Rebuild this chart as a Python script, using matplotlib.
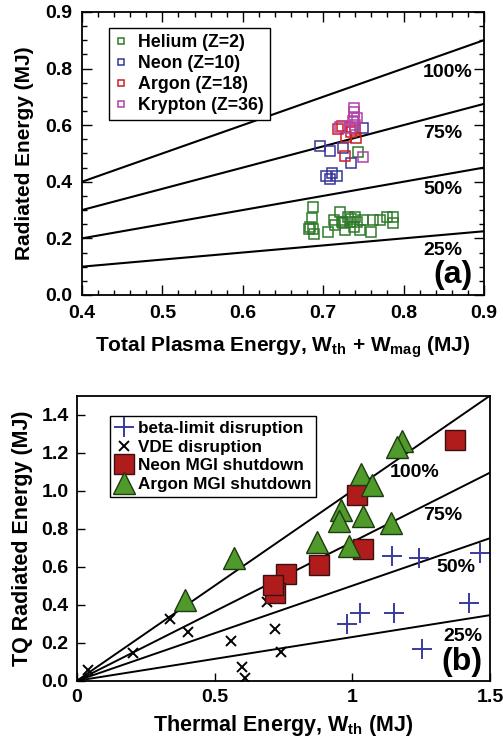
"""Radiated energy vs plasma energy: (a) impurity scan, (b) disruptions vs MGI shutdowns."""

import matplotlib
matplotlib.use("Agg")
import matplotlib.pyplot as plt
import numpy as np
from matplotlib.ticker import MultipleLocator

plt.rcParams["font.family"] = ["Liberation Sans", "DejaVu Sans"]
plt.rcParams["font.weight"] = "bold"
plt.rcParams["mathtext.fontset"] = "custom"
plt.rcParams["mathtext.rm"] = "Liberation Sans:bold"
plt.rcParams["mathtext.bf"] = "Liberation Sans:bold"

# ---- panel (a): total plasma energy vs radiated energy ----
he_x = [0.688, 0.686, 0.684, 0.688, 0.689, 0.682, 0.706, 0.713, 0.715, 0.721,
        0.723, 0.725, 0.727, 0.731, 0.733, 0.738, 0.740, 0.742, 0.746, 0.750,
        0.760, 0.762, 0.771, 0.779, 0.787, 0.787, 0.735, 0.744]
he_y = [0.310, 0.271, 0.241, 0.232, 0.215, 0.232, 0.224, 0.265, 0.247, 0.294,
        0.259, 0.253, 0.229, 0.277, 0.259, 0.241, 0.277, 0.259, 0.229, 0.265,
        0.224, 0.265, 0.265, 0.277, 0.277, 0.253, 0.270, 0.506]
ne_x = [0.750, 0.696, 0.708, 0.725, 0.735, 0.704, 0.711, 0.717, 0.708]
ne_y = [0.591, 0.527, 0.508, 0.520, 0.465, 0.420, 0.430, 0.420, 0.408]
ar_x = [0.719, 0.723, 0.729, 0.741, 0.740, 0.727, 0.735]
ar_y = [0.588, 0.598, 0.559, 0.553, 0.582, 0.492, 0.575]
kr_x = [0.739, 0.739, 0.739, 0.737, 0.740, 0.733, 0.721, 0.749, 0.742]
kr_y = [0.660, 0.645, 0.630, 0.615, 0.600, 0.590, 0.594, 0.486, 0.625]

frac_a = [1.0, 0.75, 0.5, 0.25]
frac_a_labels = ["100%", "75%", "50%", "25%"]
frac_a_pos = [(0.855, 0.785), (0.849, 0.571), (0.849, 0.374), (0.849, 0.156)]

# ---- panel (b): thermal energy vs TQ radiated energy ----
beta_x = [1.143, 1.243, 1.464, 0.980, 1.028, 1.153, 1.425, 1.252]
beta_y = [0.656, 0.647, 0.674, 0.300, 0.356, 0.356, 0.409, 0.166]
vde_x = [0.039, 0.203, 0.339, 0.403, 0.559, 0.689, 0.721, 0.742, 0.601, 0.611]
vde_y = [0.056, 0.148, 0.326, 0.254, 0.210, 0.414, 0.272, 0.153, 0.070, 0.012]
neon_x = [1.373, 1.018, 1.038, 0.879, 0.760, 0.721, 0.711]
neon_y = [1.268, 0.979, 0.691, 0.607, 0.564, 0.462, 0.506]
argon_x = [1.182, 1.161, 1.031, 1.073, 0.958, 0.950, 1.040, 1.141, 0.871,
           0.989, 0.572, 0.393]
argon_y = [1.264, 1.229, 1.088, 1.032, 0.900, 0.841, 0.868, 0.829, 0.732,
           0.709, 0.647, 0.427]

frac_b = [1.0, 0.73, 0.5, 0.23]
frac_b_labels = ["100%", "75%", "50%", "25%"]
frac_b_pos = [(1.226, 1.097), (1.33, 0.868), (1.375, 0.594), (1.40, 0.233)]

fig = plt.figure(figsize=(5.03, 7.43), dpi=100)

# panel (a)
ax = fig.add_axes([0.163, 0.603, 0.799, 0.381])
xl = np.array([0.4, 0.9])
for f in frac_a:
    ax.plot(xl, f * xl, color="black", lw=1.5)
sq = dict(marker="s", ls="none", ms=7, mfc="none", mew=1.1)
ax.plot(he_x, he_y, mec="#2f7a2a", label="Helium (Z=2)", **sq)
ax.plot(ne_x, ne_y, mec="#35359a", label="Neon (Z=10)", **sq)
ax.plot(ar_x, ar_y, mec="#cc1f24", label="Argon (Z=18)", **sq)
ax.plot(kr_x, kr_y, mec="#b040a8", label="Krypton (Z=36)", **sq)
for lab, (tx, ty) in zip(frac_a_labels, frac_a_pos):
    ax.text(tx, ty, lab, fontsize=14, fontweight="bold", ha="center", va="center")
ax.text(0.862, 0.072, "(a)", fontsize=23, fontweight="bold", ha="center", va="center")
ax.set_xlim(0.4, 0.9)
ax.set_ylim(0.0, 1.0)
ax.set_xticks([0.4, 0.5, 0.6, 0.7, 0.8, 0.9])
ax.set_xticklabels(["0.4", "0.5", "0.6", "0.7", "0.8", "0.9"])
ax.set_yticks([0.0, 0.2, 0.4, 0.6, 0.8, 1.0])
ax.set_yticklabels(["0.0", "0.2", "0.4", "0.6", "0.8", "0.9"])
ax.xaxis.set_minor_locator(MultipleLocator(0.02))
ax.yaxis.set_minor_locator(MultipleLocator(0.05))
ax.tick_params(which="both", direction="in", top=True, right=True, width=1.0)
ax.tick_params(which="major", length=7, labelsize=14, pad=7)
ax.tick_params(which="minor", length=3.5)
for s in ax.spines.values():
    s.set_linewidth(1.3)
ax.set_ylabel("Radiated Energy (MJ)", fontsize=15, fontweight="bold", labelpad=8)
ax.set_xlabel(r"Total Plasma Energy, W$_{\mathrm{th}}$ + W$_{\mathrm{mag}}$ (MJ)",
              fontsize=15, fontweight="bold", labelpad=9)
leg = ax.legend(loc="upper left", bbox_to_anchor=(0.045, 0.975), fontsize=12.8,
                markerscale=0.6, handlelength=0.7, handletextpad=0.6,
                labelspacing=0.22, borderpad=0.35, fancybox=False,
                edgecolor="black", framealpha=1)
leg.get_frame().set_linewidth(1.0)

# panel (b)
bx = fig.add_axes([0.153, 0.0838, 0.821, 0.3836])
xl = np.array([0.0, 1.5])
for f in frac_b:
    bx.plot(xl, f * xl, color="black", lw=1.4)
bx.plot(beta_x, beta_y, ls="none", marker="+", ms=15, mew=1.4, color="#3a3a9c",
        label="beta-limit disruption")
bx.plot(vde_x, vde_y, ls="none", marker="x", ms=7.5, mew=1.4, color="black",
        label="VDE disruption")
bx.plot(neon_x, neon_y, ls="none", marker="s", ms=15, mfc="#b01c1c", mec="#3a1010",
        mew=1.0, label="Neon MGI shutdown")
bx.plot(argon_x, argon_y, ls="none", marker="^", ms=16, mfc="#4f9a2a", mec="#1e3a10",
        mew=1.0, label="Argon MGI shutdown")
for lab, (tx, ty) in zip(frac_b_labels, frac_b_pos):
    bx.text(tx, ty, lab, fontsize=14, fontweight="bold", ha="center", va="center")
bx.text(1.40, 0.10, "(b)", fontsize=23, fontweight="bold", ha="center", va="center")
bx.set_xlim(0, 1.5)
bx.set_ylim(0, 1.5)
bx.set_xticks([0, 0.5, 1.0, 1.5])
bx.set_xticklabels(["0", "0.5", "1", "1.5"])
bx.set_yticks([0.0, 0.2, 0.4, 0.6, 0.8, 1.0, 1.2, 1.4])
bx.set_yticklabels(["0.0", "0.2", "0.4", "0.6", "0.8", "1.0", "1.2", "1.4"])
bx.tick_params(which="major", direction="in", length=6, width=1.0,
               labelsize=14, pad=6)
for s in bx.spines.values():
    s.set_linewidth(1.3)
bx.set_ylabel("TQ Radiated Energy (MJ)", fontsize=15.5, fontweight="bold", labelpad=6)
bx.set_xlabel(r"Thermal Energy, W$_{\mathrm{th}}$ (MJ)", fontsize=15.5,
              fontweight="bold", labelpad=5)
leg = bx.legend(loc="upper left", bbox_to_anchor=(0.06, 0.96), fontsize=12.3,
                handlelength=1.0, handletextpad=0.3, labelspacing=0.22,
                borderpad=0.3, fancybox=False, edgecolor="black", framealpha=1)
leg.get_frame().set_linewidth(1.0)

fig.savefig("out.png", dpi=100)
